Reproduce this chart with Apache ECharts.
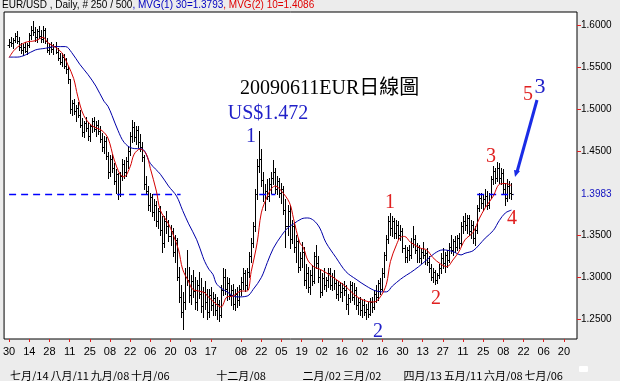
<!DOCTYPE html>
<html><head><meta charset="utf-8">
<script src="https://cdn.jsdelivr.net/npm/echarts@6/dist/echarts.min.js"></script>
<style>html,body{margin:0;padding:0;background:#ececec;overflow:hidden}#c{width:620px;height:381px}</style>
</head><body><div id="c"></div>
<script>
// ---------- data ----------
const firstDate = '2008-06-30';
const leadSlots = 2;
const totalSlots = 284;
const opens = [
1.576,1.580,1.578,1.582,1.587,1.581,1.573,1.570,1.574,1.569,
1.576,1.588,1.594,1.591,1.585,1.592,1.587,1.583,1.594,1.581,
1.570,1.574,1.571,1.575,1.568,1.561,1.556,1.562,1.551,1.547,
1.535,1.500,1.507,1.497,1.501,1.493,1.481,1.472,1.483,1.477,
1.467,1.479,1.485,1.476,1.481,1.473,1.464,1.455,1.462,1.444,
1.425,1.440,1.430,1.414,1.422,1.398,1.420,1.434,1.425,1.438,
1.450,1.468,1.478,1.466,1.475,1.460,1.455,1.443,1.410,1.402,
1.386,1.395,1.377,1.386,1.366,1.378,1.356,1.340,1.366,1.360,
1.348,1.355,1.330,1.344,1.300,1.276,1.258,1.270,1.300,1.296,
1.278,1.295,1.283,1.270,1.290,1.280,1.265,1.282,1.270,1.258,
1.278,1.266,1.275,1.260,1.268,1.255,1.284,1.300,1.286,1.292,
1.278,1.284,1.268,1.280,1.272,1.286,1.294,1.305,1.290,1.306,
1.325,1.340,1.360,1.398,1.432,1.440,1.415,1.398,1.402,1.396,
1.410,1.418,1.425,1.405,1.414,1.400,1.405,1.380,1.360,1.378,
1.345,1.360,1.336,1.342,1.312,1.322,1.330,1.296,1.305,1.288,
1.302,1.295,1.325,1.316,1.300,1.282,1.298,1.290,1.296,1.305,
1.290,1.300,1.292,1.280,1.290,1.282,1.287,1.284,1.268,1.275,
1.290,1.276,1.284,1.266,1.270,1.260,1.266,1.258,1.262,1.256,
1.270,1.264,1.280,1.276,1.292,1.286,1.305,1.326,1.345,1.366,
1.358,1.366,1.352,1.362,1.350,1.355,1.334,1.324,1.332,1.326,
1.340,1.345,1.332,1.336,1.322,1.330,1.326,1.328,1.318,1.310,
1.300,1.306,1.296,1.302,1.310,1.322,1.316,1.326,1.320,1.336,
1.332,1.342,1.336,1.346,1.340,1.360,1.366,1.362,1.370,1.354,
1.362,1.346,1.356,1.382,1.394,1.388,1.392,1.396,1.385,1.398,
1.416,1.426,1.418,1.430,1.418,1.424,1.404,1.394,1.408,1.400];
const highs = [
1.583,1.585,1.584,1.590,1.592,1.585,1.578,1.577,1.580,1.578,
1.590,1.598,1.605,1.597,1.595,1.599,1.594,1.598,1.596,1.584,
1.578,1.579,1.577,1.579,1.572,1.566,1.566,1.565,1.560,1.551,
1.536,1.511,1.512,1.505,1.508,1.498,1.489,1.486,1.490,1.484,
1.482,1.489,1.490,1.485,1.487,1.480,1.471,1.468,1.466,1.448,
1.445,1.446,1.436,1.428,1.424,1.425,1.440,1.439,1.442,1.456,
1.472,1.487,1.484,1.480,1.479,1.470,1.460,1.445,1.420,1.408,
1.400,1.398,1.392,1.390,1.382,1.384,1.372,1.372,1.378,1.368,
1.362,1.358,1.350,1.346,1.312,1.290,1.282,1.310,1.332,1.312,
1.302,1.308,1.300,1.296,1.306,1.298,1.288,1.295,1.286,1.285,
1.288,1.282,1.280,1.276,1.272,1.290,1.311,1.309,1.300,1.298,
1.290,1.291,1.285,1.288,1.290,1.300,1.311,1.308,1.310,1.330,
1.346,1.365,1.404,1.440,1.474,1.452,1.425,1.410,1.416,1.418,
1.425,1.439,1.430,1.420,1.418,1.412,1.408,1.392,1.385,1.386,
1.368,1.364,1.350,1.346,1.330,1.341,1.336,1.315,1.312,1.308,
1.314,1.330,1.338,1.325,1.308,1.305,1.310,1.300,1.311,1.310,
1.305,1.308,1.296,1.295,1.294,1.292,1.295,1.290,1.280,1.295,
1.294,1.292,1.288,1.275,1.276,1.272,1.274,1.268,1.270,1.275,
1.276,1.284,1.290,1.296,1.298,1.311,1.330,1.350,1.372,1.376,
1.372,1.370,1.368,1.366,1.362,1.358,1.338,1.336,1.338,1.346,
1.361,1.350,1.340,1.338,1.334,1.341,1.332,1.334,1.325,1.315,
1.311,1.308,1.305,1.315,1.328,1.334,1.330,1.332,1.340,1.350,
1.345,1.348,1.350,1.352,1.365,1.372,1.376,1.374,1.374,1.368,
1.366,1.360,1.386,1.400,1.400,1.398,1.404,1.402,1.400,1.420,
1.432,1.430,1.437,1.435,1.430,1.428,1.412,1.416,1.414,1.412];
const lows = [
1.574,1.575,1.572,1.579,1.578,1.570,1.566,1.564,1.567,1.565,
1.574,1.583,1.588,1.581,1.580,1.584,1.580,1.579,1.578,1.567,
1.565,1.567,1.565,1.566,1.558,1.553,1.551,1.548,1.543,1.531,
1.495,1.492,1.494,1.486,1.490,1.478,1.468,1.466,1.474,1.463,
1.462,1.472,1.473,1.468,1.470,1.460,1.450,1.447,1.440,1.418,
1.420,1.425,1.410,1.400,1.392,1.396,1.415,1.418,1.420,1.430,
1.445,1.460,1.462,1.458,1.455,1.450,1.438,1.405,1.398,1.380,
1.378,1.372,1.368,1.360,1.358,1.350,1.329,1.336,1.352,1.342,
1.338,1.325,1.318,1.296,1.270,1.252,1.238,1.262,1.290,1.270,
1.268,1.276,1.262,1.260,1.275,1.258,1.252,1.262,1.250,1.252,
1.260,1.254,1.255,1.250,1.247,1.252,1.278,1.280,1.272,1.274,
1.266,1.262,1.260,1.264,1.266,1.278,1.286,1.283,1.285,1.300,
1.318,1.336,1.355,1.392,1.425,1.408,1.390,1.380,1.392,1.390,
1.400,1.410,1.400,1.398,1.395,1.388,1.375,1.335,1.350,1.334,
1.340,1.330,1.318,1.306,1.308,1.312,1.290,1.287,1.282,1.280,
1.290,1.292,1.310,1.294,1.276,1.278,1.285,1.283,1.288,1.285,
1.284,1.286,1.275,1.272,1.276,1.271,1.278,1.262,1.256,1.270,
1.272,1.268,1.262,1.256,1.255,1.252,1.254,1.250,1.252,1.254,
1.258,1.262,1.270,1.272,1.280,1.284,1.300,1.320,1.340,1.350,
1.348,1.346,1.346,1.345,1.344,1.330,1.318,1.318,1.320,1.322,
1.336,1.328,1.318,1.318,1.316,1.322,1.315,1.314,1.306,1.296,
1.294,1.291,1.292,1.298,1.304,1.310,1.306,1.312,1.318,1.328,
1.326,1.330,1.332,1.334,1.338,1.352,1.356,1.352,1.350,1.346,
1.340,1.338,1.352,1.378,1.382,1.380,1.384,1.381,1.382,1.394,
1.410,1.412,1.414,1.412,1.410,1.398,1.386,1.390,1.394,1.392];
const closes = [
1.580,1.578,1.582,1.587,1.581,1.573,1.570,1.574,1.569,1.576,
1.588,1.594,1.591,1.585,1.592,1.587,1.583,1.594,1.581,1.570,
1.574,1.571,1.575,1.568,1.561,1.556,1.562,1.551,1.547,1.535,
1.500,1.507,1.497,1.501,1.493,1.481,1.472,1.483,1.477,1.467,
1.479,1.485,1.476,1.481,1.473,1.464,1.455,1.462,1.444,1.425,
1.440,1.430,1.414,1.422,1.398,1.420,1.434,1.425,1.438,1.450,
1.468,1.478,1.466,1.475,1.460,1.455,1.443,1.410,1.402,1.386,
1.395,1.377,1.386,1.366,1.378,1.356,1.340,1.366,1.360,1.348,
1.355,1.330,1.344,1.300,1.276,1.258,1.270,1.300,1.296,1.278,
1.295,1.283,1.270,1.290,1.280,1.265,1.282,1.270,1.258,1.278,
1.266,1.275,1.260,1.268,1.255,1.284,1.300,1.286,1.292,1.278,
1.284,1.268,1.280,1.272,1.286,1.294,1.305,1.290,1.306,1.325,
1.340,1.360,1.398,1.432,1.440,1.415,1.398,1.402,1.396,1.410,
1.418,1.425,1.405,1.414,1.400,1.405,1.380,1.360,1.378,1.345,
1.360,1.336,1.342,1.312,1.322,1.330,1.296,1.305,1.288,1.302,
1.295,1.325,1.316,1.300,1.282,1.298,1.290,1.296,1.305,1.290,
1.300,1.292,1.280,1.290,1.282,1.287,1.284,1.268,1.275,1.290,
1.276,1.284,1.266,1.270,1.260,1.266,1.258,1.262,1.256,1.270,
1.264,1.280,1.276,1.292,1.286,1.305,1.326,1.345,1.366,1.358,
1.366,1.352,1.362,1.350,1.355,1.334,1.324,1.332,1.326,1.340,
1.345,1.332,1.336,1.322,1.330,1.326,1.328,1.318,1.310,1.300,
1.306,1.296,1.302,1.310,1.322,1.316,1.326,1.320,1.336,1.332,
1.342,1.336,1.346,1.340,1.360,1.366,1.362,1.370,1.354,1.362,
1.346,1.356,1.382,1.394,1.388,1.392,1.396,1.385,1.398,1.416,
1.426,1.418,1.430,1.418,1.424,1.404,1.394,1.408,1.400,1.398];
// moving averages: [bar index, value]
const ma30 = [[0,1.5615],[4,1.5615],[8,1.564],[13,1.570],[18,1.572],[23,1.574],[28,1.574],[31,1.567],[35,1.553],[39,1.541],[43,1.527],[47,1.509],[49,1.503],[51,1.492],[54,1.474],[57,1.460],[61,1.453],[66,1.452],[70,1.435],[75,1.422],[79,1.408],[83,1.396],[86,1.379],[89,1.363],[93,1.344],[96,1.324],[97,1.318],[99,1.309],[101,1.303],[103,1.291],[108,1.282],[113,1.276],[118,1.277],[121,1.285],[125,1.299],[128,1.317],[131,1.334],[135,1.349],[138,1.358],[141,1.363],[145,1.369],[148,1.370],[151,1.367],[154,1.358],[157,1.341],[162,1.323],[167,1.306],[172,1.297],[177,1.289],[182,1.283],[187,1.282],[190,1.289],[194,1.297],[197,1.302],[199,1.305],[203,1.312],[207,1.320],[211,1.328],[215,1.332],[220,1.330],[224,1.326],[226,1.328],[230,1.331],[233,1.338],[236,1.346],[240,1.355],[243,1.367],[246,1.376],[249,1.3793]];
const ma10 = [[0,1.561],[3,1.571],[8,1.579],[13,1.581],[17,1.585],[19,1.579],[23,1.573],[26,1.567],[29,1.553],[32,1.536],[34,1.515],[37,1.492],[41,1.480],[46,1.474],[49,1.465],[52,1.440],[55,1.422],[57,1.419],[60,1.431],[62,1.446],[65,1.452],[68,1.446],[70,1.429],[73,1.402],[75,1.379],[79,1.363],[81,1.352],[84,1.332],[86,1.309],[89,1.294],[91,1.285],[94,1.283],[97,1.281],[98,1.278],[101,1.271],[105,1.264],[108,1.276],[111,1.277],[115,1.283],[118,1.283],[120,1.306],[123,1.341],[125,1.376],[128,1.396],[130,1.405],[132,1.408],[135,1.402],[139,1.388],[141,1.369],[144,1.341],[146,1.334],[148,1.320],[151,1.312],[154,1.309],[157,1.305],[162,1.297],[167,1.288],[172,1.277],[177,1.271],[181,1.270],[184,1.276],[187,1.291],[189,1.318],[192,1.338],[194,1.347],[196,1.348],[199,1.341],[204,1.334],[207,1.332],[210,1.323],[214,1.315],[217,1.312],[220,1.320],[223,1.330],[226,1.344],[230,1.353],[233,1.369],[236,1.382],[240,1.396],[243,1.410],[246,1.411],[249,1.4086]];
const ma30Last = 1.3793, ma10Last = 1.4086;
const lastPrice = 1.3983;
const lastPriceSpans = [[0,85],[124,132],[232,250]];   // bar index ranges of the dashed price line
const yTickValues = [1.25,1.30,1.35,1.45,1.50,1.55,1.60];
const dayTicks = ['2008-06-30','2008-07-14','2008-07-28','2008-08-11','2008-08-25','2008-09-08','2008-09-22','2008-10-06','2008-10-20','2008-11-03','2008-11-17','2008-12-08','2008-12-22','2009-01-05','2009-01-19','2009-02-02','2009-02-16','2009-03-02','2009-03-16','2009-03-30','2009-04-13','2009-04-27','2009-05-11','2009-05-25','2009-06-08','2009-06-22','2009-07-06','2009-07-20'];
const monthLabels = {'2008-07-14':'七月/14','2008-08-11':'八月/11','2008-09-08':'九月/08','2008-10-06':'十月/06','2008-12-08':'十二月/08','2009-02-02':'二月/02','2009-03-02':'三月/02','2009-04-13':'四月/13','2009-05-11':'五月/11','2009-06-08':'六月/08','2009-07-06':'七月/06'};

// ---------- build ----------
const cats = [];
for (let i = 0; i < leadSlots; i++) cats.push('pad' + i);
{
  const d = new Date(firstDate + 'T00:00:00Z');
  while (cats.length < totalSlots) {
    const wd = d.getUTCDay();
    if (wd !== 0 && wd !== 6) cats.push(d.toISOString().slice(0, 10));
    d.setUTCDate(d.getUTCDate() + 1);
  }
}
const tickSet = new Set(dayTicks);
const ohlc = opens.map((o, i) => [i + leadSlots, o, closes[i], lows[i], highs[i]]);
const shift = arr => arr.map(p => [p[0] + leadSlots, p[1]]);

const chart = echarts.init(document.getElementById('c'), null, {renderer: 'canvas'});
const sansFont = 'Arial, "Liberation Sans", sans-serif';
const serifFont = '"Liberation Serif", "Times New Roman", "Noto Sans CJK TC", serif';

function renderBar(params, api) {
  const x = api.value(0);
  const o = api.coord([x, api.value(1)]);
  const c = api.coord([x, api.value(2)]);
  const l = api.coord([x, api.value(3)]);
  const h = api.coord([x, api.value(4)]);
  const px = Math.round(h[0]) + 0.5;
  const oy = Math.round(o[1]) + 0.5, cy = Math.round(c[1]) + 0.5;
  const st = {stroke: '#000', lineWidth: 1};
  return {type: 'group', children: [
    {type: 'line', shape: {x1: px, y1: Math.round(h[1]), x2: px, y2: Math.round(l[1]) + 1}, style: st},
    {type: 'line', shape: {x1: px - 2, y1: oy, x2: px, y2: oy}, style: st},
    {type: 'line', shape: {x1: px, y1: cy, x2: px + 2, y2: cy}, style: st}
  ]};
}

const markSegs = lastPriceSpans.map(s => [{coord: [s[0] + leadSlots, lastPrice]}, {coord: [s[1] + leadSlots, lastPrice]}]);

const red = '#e02020', blue = '#2020c8';
function ann(text, x, y, color, size) {
  return {type: 'text', x: x, y: y, z: 100, style: {text: text, fill: color, font: (size || 20) + 'px ' + serifFont, align: 'center', verticalAlign: 'middle'}};
}

chart.setOption({
  animation: false,
  backgroundColor: '#ececec',
  grid: {left: 3, top: 12, width: 574, height: 334, show: true, backgroundColor: '#fff', borderColor: '#000', borderWidth: 1},
  xAxis: [{
    type: 'category', data: cats, boundaryGap: true,
    axisLine: {show: false},
    axisTick: {show: true, alignWithLabel: true, interval: (i, v) => tickSet.has(v), length: 3, lineStyle: {color: '#e02020'}},
    axisLabel: {interval: (i, v) => tickSet.has(v), formatter: v => v.slice(8, 10), fontSize: 11, fontFamily: sansFont, color: '#000', margin: 7},
    splitLine: {show: false}
  }, {
    type: 'category', data: cats, boundaryGap: true, position: 'bottom', offset: 25,
    axisLine: {show: false}, axisTick: {show: false}, splitLine: {show: false},
    axisLabel: {interval: (i, v) => monthLabels[v] !== undefined, formatter: v => monthLabels[v] || '', fontSize: 11, fontFamily: '"Noto Sans CJK TC", ' + sansFont, color: '#000', margin: 6}
  }],
  yAxis: {
    type: 'value', position: 'right', min: 1.2259, max: 1.6152,
    axisLine: {show: false}, splitLine: {show: false},
    axisTick: {show: true, customValues: yTickValues, length: 4, lineStyle: {color: '#e02020'}},
    axisLabel: {customValues: yTickValues.concat([lastPrice]), fontSize: 10, fontFamily: sansFont, color: '#000', margin: 4,
      formatter: v => Math.abs(v - lastPrice) < 1e-6 ? '{b|' + v.toFixed(4) + '}' : v.toFixed(4),
      rich: {b: {color: '#1010c0', fontSize: 10, fontFamily: sansFont}}}
  },
  series: [{
    type: 'custom', name: 'EUR/USD', renderItem: renderBar, data: ohlc, encode: {x: 0, y: [1, 2, 3, 4]}, z: 2, clip: true
  }, {
    type: 'line', name: 'MVG(1) 30', data: shift(ma30), symbol: 'none', smooth: 0.35, z: 4,
    lineStyle: {color: '#0000a8', width: 1},
    markLine: {silent: true, symbol: 'none', label: {show: false}, itemStyle: {color: '#0000ff'},
      lineStyle: {color: '#0000ff', type: [7, 5], width: 1.3, opacity: 1}, data: markSegs}
  }, {
    type: 'line', name: 'MVG(2) 10', data: shift(ma10), symbol: 'none', smooth: 0.35, z: 5,
    lineStyle: {color: '#d40000', width: 1}
  }],
  graphic: [
    {type: 'text', x: 2, y: 0, style: {text: '{k|EUR/USD , Daily, # 250 / 500}{b|, MVG(1) 30=' + ma30Last.toFixed(4) + '}{r|, MVG(2) 10=' + ma10Last.toFixed(4) + '}',
      font: '10px ' + sansFont, verticalAlign: 'top',
      rich: {k: {fill: '#000', font: '10px ' + sansFont}, b: {fill: '#0000c0', font: '10px ' + sansFont}, r: {fill: '#e00000', font: '10px ' + sansFont}}}},
    {type: 'text', x: 240, y: 89, z: 100, style: {text: '20090611EUR日線圖', fill: '#000', font: '20px ' + serifFont, align: 'left', verticalAlign: 'middle'}},
    ann('US$1.472', 268, 114, blue),
    ann('1', 251, 137, blue),
    ann('1', 390, 203, red),
    ann('2', 378, 332, blue),
    ann('2', 436, 299, red),
    ann('3', 491, 157, red),
    ann('4', 512, 219, red),
    ann('5', 528, 95, red),
    ann('3', 540, 87, blue, 22),
    {type: 'line', z: 100, shape: {x1: 537, y1: 100, x2: 517, y2: 172}, style: {stroke: '#1a2ce6', lineWidth: 3}},
    {type: 'polygon', z: 100, shape: {points: [[514, 170], [520, 171], [515, 177]]}, style: {fill: '#1a2ce6'}},
    {type: 'rect', z: 100, shape: {x: 579, y: 366, width: 9, height: 6, r: 1}, style: {fill: '#fff'}}
  ]
});
</script>
</body></html>
